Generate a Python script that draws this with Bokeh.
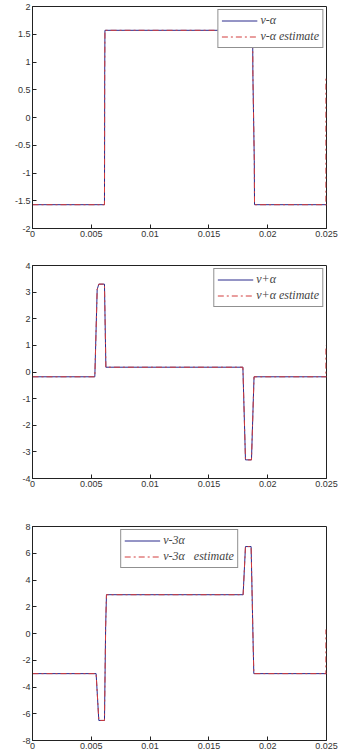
from bokeh.plotting import figure
from bokeh.layouts import column
from bokeh.models import FixedTicker, Range1d, Legend, LegendItem
from bokeh.embed import file_html
from bokeh.resources import INLINE

# ---- data ----
x_ticks = [0, 0.005, 0.01, 0.015, 0.02, 0.025]
x_tick_labels = ["0", "0.005", "0.01", "0.015", "0.02", "0.025"]

t1 = [0, 0.00612, 0.00614, 0.00616, 0.01872, 0.01874, 0.01886, 0.01888, 0.025]
y1 = [-1.571, -1.571, 0.78, 1.571, 1.571, 0.78, -0.78, -1.571, -1.571]
t1_est = t1 + [0.02495, 0.02495]
y1_est = y1 + [-1.571, 0.75]
y1_ticks = [-2, -1.5, -1, -0.5, 0, 0.5, 1, 1.5, 2]
y1_labels = ["-2", "-1.5", "-1", "-0.5", "0", "0.5", "1", "1.5", "2"]

t2 = [0, 0.0053, 0.0055, 0.00564, 0.00612, 0.00624, 0.01789, 0.01811, 0.01862, 0.01878, 0.01884, 0.025]
y2 = [-0.18, -0.18, 3.1, 3.3, 3.3, 0.18, 0.18, -3.3, -3.3, -1.0, -0.18, -0.18]
t2_est = t2 + [0.02495, 0.02495]
y2_est = y2 + [-0.18, 1.0]
y2_ticks = [-4, -3, -2, -1, 0, 1, 2, 3, 4]

t3 = [0, 0.00541, 0.00564, 0.00612, 0.00622, 0.00629, 0.01791, 0.01811, 0.01859, 0.01876, 0.01882, 0.025]
y3 = [-3.0, -3.0, -6.5, -6.5, 0.5, 2.9, 2.9, 6.5, 6.5, -0.7, -3.0, -3.0]
t3_est = t3 + [0.02495, 0.02495]
y3_est = y3 + [-3.0, 0.3]
y3_ticks = [-8, -6, -4, -2, 0, 2, 4, 6, 8]

labels1 = ["v-\u03b1", "v-\u03b1 estimate"]
labels2 = ["v+\u03b1", "v+\u03b1 estimate"]
labels3 = ["v-3\u03b1", "v-3\u03b1   estimate"]

BLUE = "#2a2a8c"
RED = "#d23c3c"
TICK_FONT = "Liberation Sans"


def style_axis(ax):
    ax.major_tick_in = 4
    ax.major_tick_out = 0
    ax.minor_tick_in = 0
    ax.minor_tick_out = 0
    ax.axis_line_color = "#222222"
    ax.major_tick_line_color = "#222222"
    ax.major_label_text_font = TICK_FONT
    ax.major_label_text_color = "#333333"
    ax.major_label_text_font_size = "9px"
    ax.major_label_standoff = 2


def make_panel(t, y, te, ye, yticks, ylabels, yr, labels, height, top, bottom, loc):
    p = figure(width=340, height=height, output_backend="svg", toolbar_location=None,
               x_range=Range1d(0, 0.025), y_range=Range1d(*yr),
               min_border_left=32, min_border_right=14, min_border_top=top,
               min_border_bottom=bottom)
    p.xgrid.visible = False
    p.ygrid.visible = False
    p.outline_line_color = "#222222"
    p.outline_line_width = 1
    p.background_fill_color = "white"
    p.border_fill_color = "white"

    xa = p.below[0]
    ya = p.left[0]
    style_axis(xa)
    style_axis(ya)
    xa.ticker = FixedTicker(ticks=x_ticks)
    xa.major_label_overrides = {k: v for k, v in zip(x_ticks, x_tick_labels)}
    ya.ticker = FixedTicker(ticks=yticks)
    ya.major_label_overrides = {k: v for k, v in zip(yticks, ylabels)}

    r1 = p.line(t, y, line_color=BLUE, line_width=1)
    r2 = p.line(te, ye, line_color=RED, line_width=1, line_dash="6 3 2 3")

    leg = Legend(items=[LegendItem(label=labels[0], renderers=[r1]),
                        LegendItem(label=labels[1], renderers=[r2])],
                 location=loc)
    leg.label_text_font = "Liberation Serif"
    leg.label_text_font_style = "italic"
    leg.label_text_font_size = "12px"
    leg.label_height = 11
    leg.label_standoff = 3
    leg.glyph_width = 36
    leg.glyph_height = 11
    leg.spacing = 1
    leg.padding = 3
    leg.margin = 3
    leg.border_line_color = "#222222"
    leg.border_line_width = 1
    leg.background_fill_alpha = 1.0
    p.add_layout(leg, "center")
    return p


p1 = make_panel(t1, y1, t1_est, y1_est, y1_ticks, y1_labels, (-2, 2), labels1,
                250, 6, 22, "top_right")
p2 = make_panel(t2, y2, t2_est, y2_est, y2_ticks, [str(v) for v in y2_ticks], (-4, 4), labels2,
                250, 15, 22, "top_right")
p3 = make_panel(t3, y3, t3_est, y3_est, y3_ticks, [str(v) for v in y3_ticks], (-8, 8), labels3,
                252, 26, 12, "top")

layout = column(p1, p2, p3, spacing=0)
open("out.html", "w").write(file_html(layout, INLINE))
